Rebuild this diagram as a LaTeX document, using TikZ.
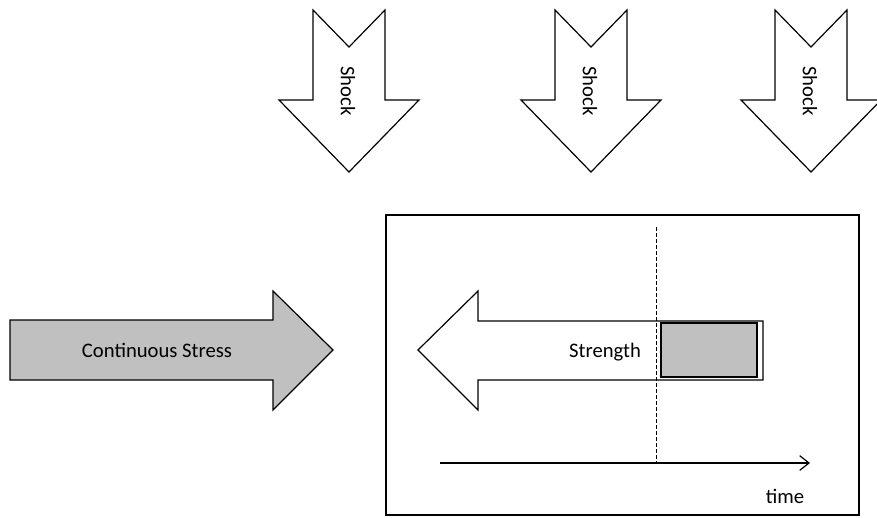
\documentclass[tikz,border=0pt]{standalone}
\usepackage{fontspec}
\setmainfont{Carlito}
\usepackage{tikz}
\usetikzlibrary{arrows.meta}
\definecolor{fillgray}{HTML}{C0C0C0}

\begin{document}
\begin{tikzpicture}[x=0.75pt,y=-0.75pt]
        \tikzset{
        lbl/.style={font=\fontsize{15.5}{18}\selectfont,inner sep=0},
        outl/.style={draw,line width=0.9pt,line join=miter},
        shock/.pic={
            \draw[outl,fill=white] (-36,0) -- (0,37) -- (36,0) -- (36,90) -- (70,90)
                -- (0,162) -- (-70,90) -- (-36,90) -- cycle;
            \node[lbl,rotate=-90] (-txt) at (-1,81) {Shock};
        }
        }
        \useasboundingbox (0,0) rectangle (877,517);

        % shocks from above
        \pic (s1) at (349,10) {shock};
        \pic (s2) at (591,10) {shock};
        \pic (s3) at (811,10) {shock};

        % continuous stress
        \draw[outl,fill=fillgray] (10,320) -- (273,320) -- (273,291) -- (333,350)
            -- (273,410) -- (273,380) -- (10,380) -- cycle;
        \node[lbl,anchor=base] (stress) at (157,357) {Continuous Stress};

        % component
        \draw[outl] (386,215) rectangle (859,515);
        \draw[outl] (763,321) -- (478,321) -- (478,291) -- (418,350)
            -- (478,410) -- (478,380) -- (763,380) -- cycle;
        \node[lbl,anchor=base] (strength) at (605,357) {Strength};
        \draw[line width=0.7pt,dash pattern=on 3pt off 1.5pt] (656,227) -- (656,463);
        \draw[line width=1.6pt,fill=fillgray] (661,323) rectangle (757,377);

        % time axis
        \coordinate (t0) at (440,463);
        \coordinate (t1) at (810,463);
        \draw[line width=0.9pt,-{Straight Barb[length=7pt,width=11pt]}] (t0) -- (t1);
        \node[lbl,anchor=base] (time) at (785,503) {time};
\end{tikzpicture}
\end{document}
